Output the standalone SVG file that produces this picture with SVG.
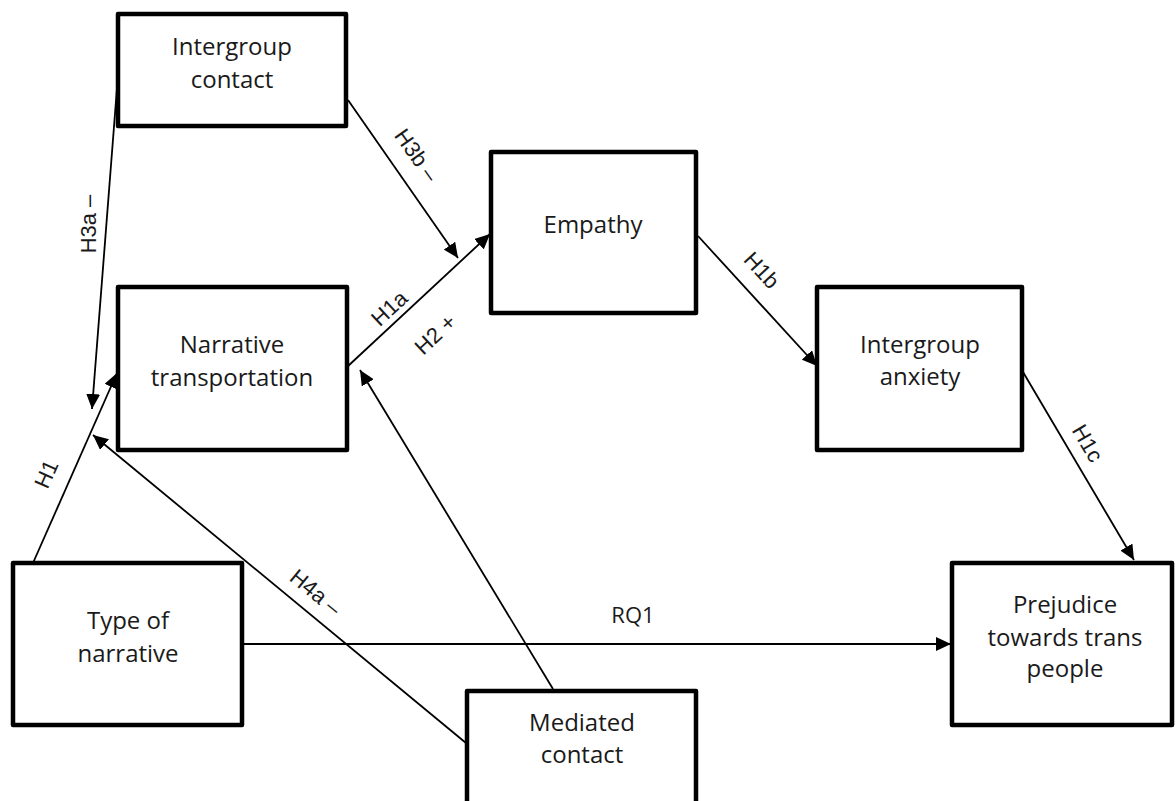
<svg xmlns="http://www.w3.org/2000/svg" width="1176" height="801" viewBox="0 0 1176 801">
<style>
.box{fill:#fff;stroke:#000;stroke-width:4.5;stroke-linejoin:round}
.nt{font-family:"Open Sans","Noto Sans",sans-serif;font-size:24px;fill:#1a1a1a;text-anchor:middle}
.ln{stroke:#000;stroke-width:1.8;fill:none;marker-end:url(#ah)}
.lb{font-family:"Liberation Sans",Arial,sans-serif;font-size:22px;fill:#1a1a1a;text-anchor:middle}
</style>
<defs>
<marker id="ah" markerUnits="userSpaceOnUse" markerWidth="16" markerHeight="14" refX="15" refY="7" orient="auto">
<path d="M0,0 L15,7 L0,14 z" fill="#000"/>
</marker>
</defs>
<rect width="1176" height="801" fill="#fff"/>
<g id="connectors">
<line class="ln" x1="348" y1="100" x2="458" y2="258"/>
<line class="ln" x1="347" y1="367" x2="490" y2="234"/>
<line class="ln" x1="117" y1="88" x2="92" y2="409"/>
<line class="ln" x1="33" y1="563" x2="117" y2="373"/>
<line class="ln" x1="466" y1="743" x2="93" y2="435"/>
<line class="ln" x1="553" y1="689" x2="360" y2="370"/>
<line class="ln" x1="698" y1="236" x2="817" y2="366"/>
<line class="ln" x1="1023" y1="372" x2="1134" y2="560"/>
<line class="ln" x1="242" y1="644" x2="951" y2="644"/>
<text class="lb" transform="translate(88,224) rotate(-90)" y="8">H3a –</text>
<text class="lb" transform="translate(417,155) rotate(55)" y="8">H3b –</text>
<text class="lb" transform="translate(389,308) rotate(-43)" y="8">H1a</text>
<text class="lb" transform="translate(435,334) rotate(-43)" y="8">H2 +</text>
<text class="lb" transform="translate(762,270) rotate(47.5)" y="8">H1b</text>
<text class="lb" transform="translate(1088,443) rotate(59.4)" y="8">H1c</text>
<text class="lb" transform="translate(46,474) rotate(-66)" y="8">H1</text>
<text class="lb" transform="translate(316,592) rotate(39.5)" y="8">H4a –</text>
<text class="nt" x="633" y="623" style="font-size:22px">RQ1</text>
</g>
<g id="intergroup-contact">
<rect class="box" x="118" y="14" width="228" height="112"/>
<text class="nt" x="232" y="55">Intergroup</text>
<text class="nt" x="232" y="88">contact</text>
</g>
<g id="narrative-transportation">
<rect class="box" x="118" y="287" width="229" height="163"/>
<text class="nt" x="232" y="353">Narrative</text>
<text class="nt" x="232" y="386">transportation</text>
</g>
<g id="empathy">
<rect class="box" x="491" y="152" width="205" height="161"/>
<text class="nt" x="593" y="233">Empathy</text>
</g>
<g id="intergroup-anxiety">
<rect class="box" x="817" y="287" width="205" height="163"/>
<text class="nt" x="920" y="353">Intergroup</text>
<text class="nt" x="920" y="385">anxiety</text>
</g>
<g id="prejudice">
<rect class="box" x="952" y="563" width="220" height="162"/>
<text class="nt" x="1065" y="613">Prejudice</text>
<text class="nt" x="1065" y="646">towards trans</text>
<text class="nt" x="1065" y="677">people</text>
</g>
<g id="type-of-narrative">
<rect class="box" x="13" y="563" width="229" height="162"/>
<text class="nt" x="128" y="629">Type of</text>
<text class="nt" x="128" y="662">narrative</text>
</g>
<g id="mediated-contact">
<rect class="box" x="467" y="691" width="229" height="118"/>
<text class="nt" x="582" y="731">Mediated</text>
<text class="nt" x="582" y="763">contact</text>
</g>
</svg>
